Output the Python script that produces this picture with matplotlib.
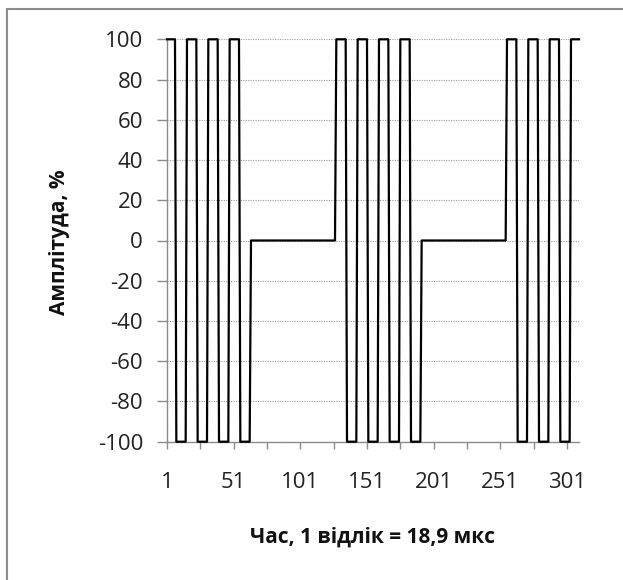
import numpy as np
import matplotlib
matplotlib.use("Agg")
import matplotlib.pyplot as plt
from matplotlib.patches import Rectangle

# signal: level (%) and number of samples
run_levels = [100, -100, 100, -100, 100, -100, 100, -100, 0,
              100, -100, 100, -100, 100, -100, 100, -100, 0,
              100, -100, 100, -100, 100, -100, 100]
run_lengths = [7, 8, 8, 8, 8, 8, 8, 8, 64,
               8, 8, 8, 8, 8, 8, 8, 8, 64,
               8, 8, 8, 8, 8, 8, 7]

y_ticks = [-100, -80, -60, -40, -20, 0, 20, 40, 60, 80, 100]
x_ticks = [1, 26, 51, 76, 101, 126, 151, 176, 201, 226, 251, 276, 301]
x_labels = ['1', '', '51', '', '101', '', '151', '', '201', '', '251', '', '301']

values = np.repeat(run_levels, run_lengths)
samples = np.arange(1, len(values) + 1)

plt.rcParams['font.family'] = ['Open Sans', 'DejaVu Sans']
plt.rcParams['axes.unicode_minus'] = False
W, H = 623, 580
fig = plt.figure(figsize=(W / 100, H / 100), dpi=100)

# chart area border (cut off at right and bottom in the original)
fig.patches.append(Rectangle((6.5 / W, -0.1), 1.2, 1.1 - 9 / H, transform=fig.transFigure,
                             fill=False, edgecolor='#8c8c8c', lw=1.5))

left, right, top, bottom = 167, 579, 39.3, 441.7
ax = fig.add_axes([left / W, 1 - bottom / H, (right - left) / W, (bottom - top) / H])

ax.plot(samples, values, color='black', lw=1.6, clip_on=False, zorder=3)

ax.set_xlim(1, len(values))
ax.set_ylim(-100, 100)
ax.set_yticks(y_ticks)
ax.set_xticks(x_ticks)
ax.set_xticklabels(x_labels)

ax.yaxis.grid(True, linestyle=(0, (1, 1.2)), color='#9a9a9a', lw=0.8)
ax.set_axisbelow(True)
for s in ['top', 'right']:
    ax.spines[s].set_visible(False)
for s in ['left', 'bottom']:
    ax.spines[s].set_color('#8c8c8c')
    ax.spines[s].set_linewidth(1.0)

ax.tick_params(axis='y', length=7.2, width=1.0, color='#8c8c8c', pad=10, labelsize=16, labelcolor='#222222')
ax.tick_params(axis='x', length=5, width=1.0, color='#8c8c8c', pad=17, labelsize=16, labelcolor='#222222')

fig.text(373 / W, 1 - 537 / H, 'Час, 1 відлік = 18,9 мкс', ha='center', va='center',
         fontsize=15, fontweight='bold', color='#111111')
fig.text(59 / W, 1 - 242 / H, 'Амплітуда, %', ha='center', va='center', rotation=90,
         fontsize=15, fontweight='bold', color='#111111')

fig.savefig('out.png', dpi=100)
